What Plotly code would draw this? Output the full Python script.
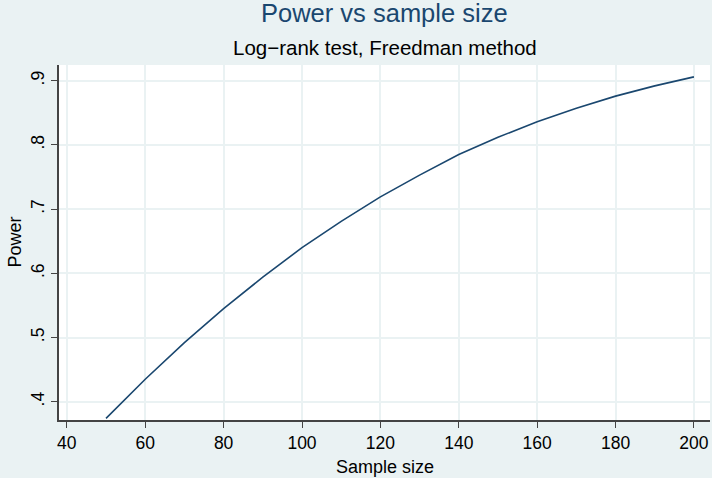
import plotly.graph_objects as go

sample_size = [50, 60, 70, 80, 90, 100, 110, 120, 130, 140, 150, 160, 170, 180, 190, 200]
power = [0.374, 0.435, 0.492, 0.545, 0.594, 0.640, 0.681, 0.719, 0.753, 0.785,
         0.812, 0.836, 0.857, 0.876, 0.892, 0.906]
x_ticks = [40, 60, 80, 100, 120, 140, 160, 180, 200]
y_ticks = [0.4, 0.5, 0.6, 0.7, 0.8, 0.9]
y_labels = [".4", ".5", ".6", ".7", ".8", ".9"]

BG = "#EAF2F3"
NAVY = "#1a476f"
FONT = "Liberation Sans, Arial, sans-serif"

fig = go.Figure(go.Scatter(x=sample_size, y=power, mode="lines",
                           line=dict(color=NAVY, width=1.6), hoverinfo="x+y"))

fig.update_layout(
    width=712, height=478,
    paper_bgcolor=BG, plot_bgcolor="white",
    margin=dict(l=59, r=2, t=65, b=58),
    showlegend=False,
    font=dict(family=FONT, color="black", size=17),
    xaxis=dict(range=[38, 204.1], tickvals=x_ticks, ticks="outside", ticklen=6,
               tickcolor="#444", showline=True, linecolor="#444", linewidth=1.5,
               showgrid=True, gridcolor=BG, gridwidth=1.5, zeroline=False,
               tickfont=dict(size=17.5)),
    yaxis=dict(range=[0.3715, 0.9245], tickvals=y_ticks, ticktext=y_labels,
               ticks="outside", ticklen=6, tickcolor="#444", showline=True,
               linecolor="#444", linewidth=1.5, showgrid=True, gridcolor=BG,
               gridwidth=1.5, zeroline=False, tickangle=-90, tickfont=dict(size=17.5)),
    annotations=[
        dict(text="Power vs sample size", xref="paper", yref="paper", x=0.5, y=1,
             yshift=52, showarrow=False, xanchor="center", yanchor="middle",
             font=dict(size=25.5, color=NAVY)),
        dict(text="Log\u2212rank test, Freedman method", xref="paper", yref="paper",
             x=0.5, y=1, yshift=18, showarrow=False, xanchor="center",
             yanchor="middle", font=dict(size=20.5, color="black")),
        dict(text="Sample size", xref="paper", yref="paper", x=0.5, y=0,
             yshift=-47, showarrow=False, xanchor="center", yanchor="middle",
             font=dict(size=18)),
        dict(text="Power", xref="paper", yref="paper", x=0, y=0.5, xshift=-45,
             showarrow=False, textangle=-90, xanchor="center", yanchor="middle",
             font=dict(size=18)),
    ],
)

fig.write_html("out.html")
